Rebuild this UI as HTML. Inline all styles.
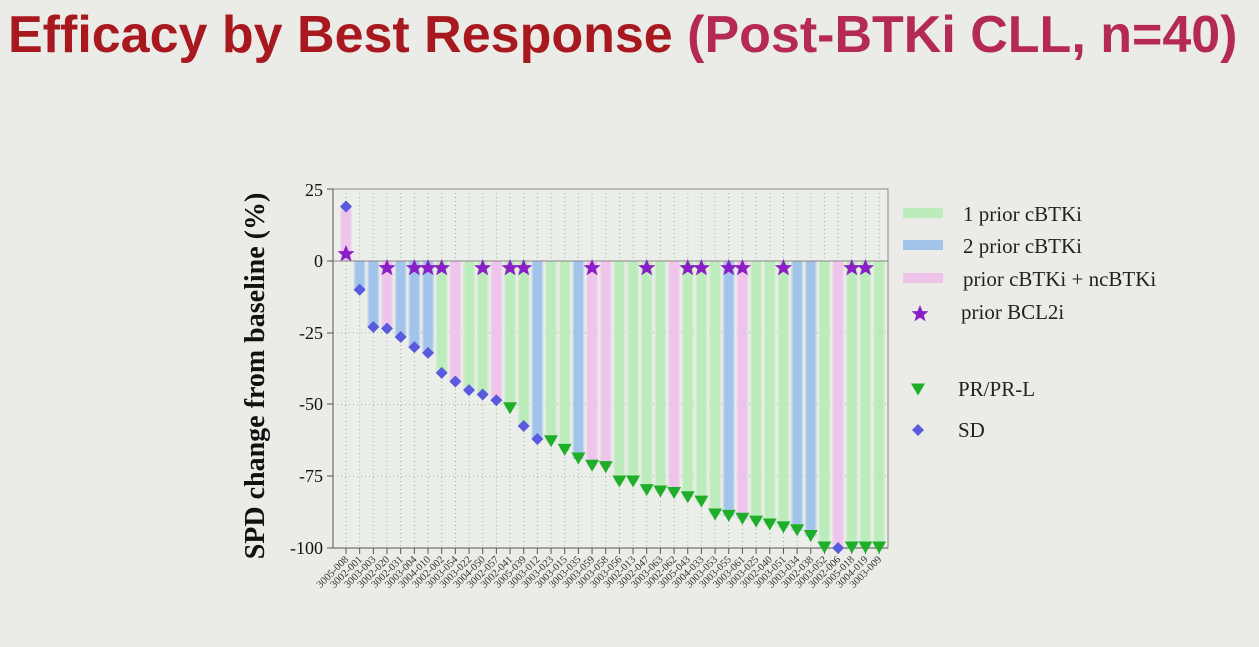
<!DOCTYPE html>
<html><head><meta charset="utf-8"><style>
html,body{margin:0;padding:0;background:#ebece8;}
body{width:1259px;height:647px;overflow:hidden;position:relative;}
.t{position:absolute;left:8px;top:5px;font-family:"Liberation Sans",sans-serif;font-weight:bold;font-size:52px;color:#a8181f;white-space:nowrap;letter-spacing:0px}
.t span{color:#b42a52}
</style></head><body>
<div class="t">Efficacy by Best Response <span>(Post-BTKi CLL, n=40)</span></div>
<svg width="1259" height="647" style="position:absolute;left:0;top:0">
<defs>
<polygon id="star" points="0,-9 2.5,-2.9 8.6,-2.8 3.8,1.1 5.5,7.3 0,3.7 -5.5,7.3 -3.8,1.1 -8.6,-2.8 -2.5,-2.9" fill="#8a1fc6"/>
<polygon id="tri" points="-7,-5.5 7,-5.5 0,6.5" fill="#1fae2a"/>
<polygon id="dia" points="0,-6 6,0 0,6 -6,0" fill="#5a5ade"/>
</defs>
<g id="chart"></g>
<g font-family="Liberation Serif,serif" font-size="18" fill="#111" text-anchor="end">
<text x="323" y="196">25</text><text x="323" y="267">0</text><text x="323" y="339">-25</text><text x="323" y="410">-50</text><text x="323" y="482">-75</text><text x="323" y="554">-100</text>
</g>
<text transform="translate(264,376) rotate(-90)" text-anchor="middle" font-family="Liberation Serif,serif" font-weight="bold" font-size="28" fill="#111">SPD change from baseline (%)</text>
<g font-family="Liberation Serif,serif" font-size="21" fill="#222">
<rect x="903" y="208" width="40" height="10" fill="#bcecbc"/><text x="963" y="221">1 prior cBTKi</text>
<rect x="903" y="240" width="40" height="10" fill="#a2c4ea"/><text x="963" y="253">2 prior cBTKi</text>
<rect x="903" y="273" width="40" height="10" fill="#eec4ea"/><text x="963" y="286">prior cBTKi + ncBTKi</text>
<use href="#star" x="920" y="314"/><text x="961" y="319">prior BCL2i</text>
<use href="#tri" x="918" y="389"/><text x="958" y="396">PR/PR-L</text>
<use href="#dia" x="918" y="430"/><text x="958" y="437">SD</text>
</g>
</svg>
<script>
var d=[['p',19,'S',1,'3005-008'],['b',-10,'S',0,'3002-001'],['b',-23,'S',0,'3003-003'],['p',-23.5,'S',1,'3002-020'],['b',-26.5,'S',0,'3002-031'],['b',-30,'S',1,'3003-004'],['b',-32,'S',1,'3004-010'],['g',-39,'S',1,'3002-002'],['p',-42,'S',0,'3003-054'],['g',-45,'S',0,'3003-022'],['g',-46.5,'S',1,'3004-050'],['p',-48.5,'S',0,'3002-057'],['g',-51.5,'P',1,'3002-041'],['g',-57.5,'S',1,'3005-039'],['b',-62,'S',0,'3003-012'],['g',-63,'P',0,'3003-023'],['g',-66,'P',0,'3003-015'],['b',-69,'P',0,'3003-035'],['p',-71.5,'P',1,'3003-059'],['p',-72,'P',0,'3003-058'],['g',-77,'P',0,'3003-056'],['g',-77,'P',0,'3002-013'],['g',-80,'P',1,'3002-047'],['g',-80.5,'P',0,'3003-063'],['p',-81,'P',0,'3002-062'],['g',-82.5,'P',1,'3005-043'],['g',-84,'P',1,'3004-033'],['g',-88.5,'P',0,'3003-053'],['b',-89,'P',1,'3003-055'],['p',-90,'P',1,'3003-061'],['g',-91,'P',0,'3003-025'],['g',-92,'P',0,'3002-040'],['g',-93,'P',1,'3003-051'],['b',-94,'P',0,'3003-034'],['b',-96,'P',0,'3002-038'],['g',-100,'P',0,'3003-052'],['p',-100,'S',0,'3002-006'],['g',-100,'P',1,'3005-018'],['g',-100,'P',1,'3004-019'],['g',-100,'P',0,'3003-009']];
var col={g:'#bcecbc',b:'#a2c4ea',p:'#eec4ea'};
function Y(v){return 261-v*2.87;}
var s='';
s+='<rect x="333" y="189" width="555" height="359" fill="#eceeea" stroke="#8a8a8a" stroke-width="1"/>';
[-25,-50,-75].forEach(function(v){s+='<line x1="333" x2="888" y1="'+Y(v)+'" y2="'+Y(v)+'" stroke="#9ab89a" stroke-dasharray="1,3"/>';});
for(var i=0;i<40;i++){var x=346+i*13.67;s+='<line x1="'+x+'" x2="'+x+'" y1="189" y2="548" stroke="'+(i%2?'#9ab89a':'#8ab0c8')+'" stroke-dasharray="1,3"/>';}
d.forEach(function(e,i){var x=346+i*13.67,y0=Y(0),y1=Y(e[1]);var t=Math.min(y0,y1),h=Math.abs(y1-y0);
s+='<rect x="'+(x-6)+'" y="'+t+'" width="12" height="'+h+'" fill="'+col[e[0]]+'" opacity="0.5"/>';
s+='<rect x="'+(x-4.5)+'" y="'+t+'" width="9" height="'+h+'" fill="'+col[e[0]]+'"/>';});
s+='<line x1="333" x2="888" y1="261" y2="261" stroke="#888" stroke-width="1"/>';
s+='<line x1="333" x2="888" y1="548" y2="548" stroke="#555" stroke-width="1"/><line x1="333" x2="333" y1="189" y2="548" stroke="#555"/>';
[189,261,333,404,476,548].forEach(function(y){s+='<line x1="327" x2="333" y1="'+y+'" y2="'+y+'" stroke="#555"/>';});
d.forEach(function(e,i){var x=346+i*13.67,y=Y(e[1]);
s+='<line x1="'+x+'" x2="'+x+'" y1="548" y2="554" stroke="#555"/>';
s+='<text transform="translate('+(x+3)+',560) rotate(-45)" text-anchor="end" font-family="Liberation Serif,serif" font-size="10.5" fill="#333">'+e[4]+'</text>';
s+='<use href="#'+(e[2]=='P'?'tri':'dia')+'" x="'+x+'" y="'+(y+(e[2]=='P'?-1:0))+'"/>';
if(e[3]) s+='<use href="#star" x="'+x+'" y="'+(i==0?254:268)+'"/>';});
document.getElementById('chart').innerHTML=s;
</script>
</body></html>
